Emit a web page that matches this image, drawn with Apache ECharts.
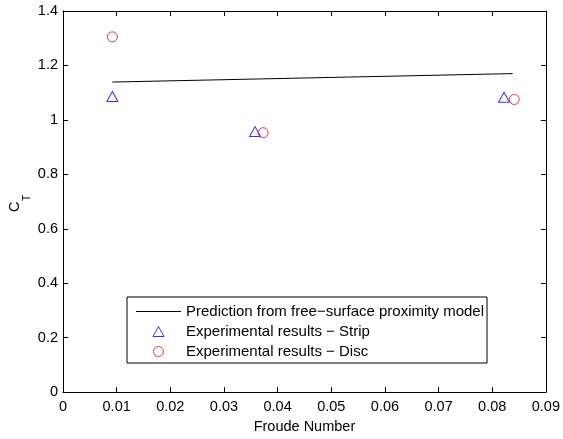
<!DOCTYPE html>
<html>
<head>
<meta charset="utf-8">
<script src="https://cdn.jsdelivr.net/npm/echarts@6/dist/echarts.min.js"></script>
<style>html,body{margin:0;padding:0;background:#fff}#c{width:563px;height:439px}</style>
</head>
<body>
<div id="c"></div>
<script>
var xTicks = [0, 0.01, 0.02, 0.03, 0.04, 0.05, 0.06, 0.07, 0.08, 0.09];
var yTicks = [0, 0.2, 0.4, 0.6, 0.8, 1, 1.2, 1.4];
var predX = [0.0092, 0.0838];
var predY = [1.139, 1.170];
var stripX = [0.0092, 0.0358, 0.0822];
var stripY = [1.086, 0.957, 1.083];
var discX = [0.0092, 0.0373, 0.0841];
var discY = [1.305, 0.953, 1.075];
var names = ['Prediction from free\u2212surface proximity model', 'Experimental results \u2212 Strip', 'Experimental results \u2212 Disc'];

function pairs(xs, ys) { return xs.map(function (x, i) { return [x, ys[i]]; }); }
var FONT = 'Liberation Sans';
var chart = echarts.init(document.getElementById('c'), null, {renderer: 'canvas'});
function xAx(pos, show) {
  return {
    type: 'value', position: pos, min: 0, max: 0.09, interval: 0.01,
    axisLine: {show: true, onZero: false, lineStyle: {color: '#000', width: 1}},
    axisTick: {show: true, inside: true, length: 5, lineStyle: {color: '#000'}},
    axisLabel: {show: show, color: '#000', fontFamily: FONT, fontSize: 14.5, margin: 7,
      formatter: function (v) { return String(+v.toFixed(2)); }},
    splitLine: {show: false},
    name: show ? 'Froude Number' : '', nameLocation: 'middle', nameGap: 25,
    nameTextStyle: {color: '#000', fontFamily: FONT, fontSize: 14.5}
  };
}
function yAx(pos, show) {
  return {
    type: 'value', position: pos, min: 0, max: 1.4, interval: 0.2,
    axisLine: {show: true, onZero: false, lineStyle: {color: '#000', width: 1}},
    axisTick: {show: true, inside: true, length: 5, lineStyle: {color: '#000'}},
    axisLabel: {show: show, color: '#000', fontFamily: FONT, fontSize: 14.5, margin: 5,
      formatter: function (v) { return String(+v.toFixed(1)); }},
    splitLine: {show: false}
  };
}
chart.setOption({
  animation: false,
  backgroundColor: '#fff',
  grid: {left: 63, right: 14, top: 11, bottom: 45},
  xAxis: [xAx('bottom', true), xAx('top', false)],
  yAxis: [yAx('left', true), yAx('right', false)],
  legend: {
    orient: 'vertical', left: 127, top: 297,
    padding: [6, 3, 3, 9], itemGap: 3, itemWidth: 45, itemHeight: 10,
    borderColor: '#000', borderWidth: 1, backgroundColor: '#fff',
    itemStyle: {borderWidth: 1},
    textStyle: {color: '#000', fontFamily: FONT, fontSize: 15, lineHeight: 17},
    data: [
      {name: names[0], icon: 'path://M0,0 L45,0 L45,1 L0,1 Z'},
      {name: names[1], icon: 'path://M5.5,0 L11,10 L0,10 Z'},
      {name: names[2], icon: 'circle'}
    ]
  },
  graphic: [{
    type: 'group', x: 15, y: 212, rotation: Math.PI / 2,
    children: [
      {type: 'text', x: 0, y: 0, style: {text: 'C', font: '14.5px "Liberation Sans"', fill: '#000', textAlign: 'left', textVerticalAlign: 'middle'}},
      {type: 'text', x: 11, y: 12, style: {text: 'T', font: '10px "Liberation Sans"', fill: '#000', textAlign: 'left', textVerticalAlign: 'middle'}}
    ]
  }],
  series: [
    {name: names[0], type: 'line', data: pairs(predX, predY), symbol: 'none',
      lineStyle: {color: '#000', width: 1}, itemStyle: {color: '#000'}, z: 2},
    {name: names[1], type: 'scatter', data: pairs(stripX, stripY), symbol: 'triangle', symbolSize: [11, 10],
      itemStyle: {color: 'rgba(0,0,0,0)', borderColor: '#0000ff', borderWidth: 1}, z: 3},
    {name: names[2], type: 'scatter', data: pairs(discX, discY), symbol: 'circle', symbolSize: 10,
      itemStyle: {color: 'rgba(0,0,0,0)', borderColor: '#ff0000', borderWidth: 1}, z: 4}
  ]
});
</script>
</body>
</html>
